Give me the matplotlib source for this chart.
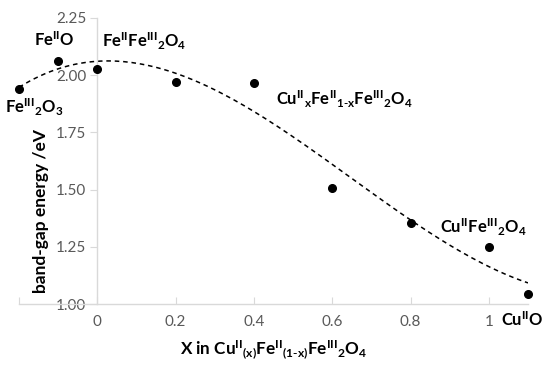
import numpy as np
import matplotlib
matplotlib.use("Agg")
import matplotlib.pyplot as plt

x_vals = [-0.2, -0.1, 0.0, 0.2, 0.4, 0.6, 0.8, 1.0, 1.1]
gap_vals = [1.94, 2.062, 2.027, 1.970, 1.966, 1.507, 1.354, 1.249, 1.044]
x_ticks = [-0.2, 0.0, 0.2, 0.4, 0.6, 0.8, 1.0]
x_ticklabels = ['', '0', '0.2', '0.4', '0.6', '0.8', '1']
y_ticks = [1.00, 1.25, 1.50, 1.75, 2.00, 2.25]
y_ticklabels = ['1.00', '1.25', '1.50', '1.75', '2.00', '2.25']

labels = [
    (r'Fe$\mathregular{^{II}}$O', -0.11, 2.155),
    (r'Fe$\mathregular{^{III}{}_2}$O$\mathregular{_3}$', -0.16, 1.86),
    (r'Fe$\mathregular{^{II}}$Fe$\mathregular{^{III}{}_2}$O$\mathregular{_4}$', 0.12, 2.15),
    (r'Cu$\mathregular{^{II}{}_x}$Fe$\mathregular{^{II}{}_{1\text{-}x}}$Fe$\mathregular{^{III}{}_2}$O$\mathregular{_4}$', 0.632, 1.895),
    (r'Cu$\mathregular{^{II}}$Fe$\mathregular{^{III}{}_2}$O$\mathregular{_4}$', 0.985, 1.335),
    (r'Cu$\mathregular{^{II}}$O', 1.085, 0.93),
]

plt.rcParams['font.family'] = ['Lato', 'DejaVu Sans']

fig = plt.figure(figsize=(5.5, 3.65), dpi=100)
ax = fig.add_axes([19/550, 1-304/365, (528-19)/550, (304-18)/365])

coef = np.polyfit(x_vals, gap_vals, 3)
xs = np.linspace(min(x_vals), max(x_vals), 200)
ax.plot(xs, np.polyval(coef, xs), color='black', lw=1.1, ls=(0, (3, 2.5)))
ax.plot(x_vals, gap_vals, 'o', color='black', ms=5.5, clip_on=False, zorder=3)

ax.set_xlim(-0.2, 1.1)
ax.set_ylim(1.0, 2.25)
for s in ['top', 'right']:
    ax.spines[s].set_visible(False)
ax.spines['left'].set_position(('data', 0))
for s in ['left', 'bottom']:
    ax.spines[s].set_color('#d9d9d9')
    ax.spines[s].set_linewidth(1.0)
ax.set_xticks(x_ticks)
ax.set_xticklabels(x_ticklabels)
ax.set_yticks(y_ticks)
ax.set_yticklabels(y_ticklabels)
ax.tick_params(axis='x', direction='in', length=5, color='#d9d9d9', labelcolor='#595959', labelsize=11, pad=8)
ax.tick_params(axis='y', direction='out', length=5, color='#d9d9d9', labelcolor='#595959', labelsize=11, pad=3)

for txt, xx, yy in labels:
    ax.text(xx, yy, txt, fontsize=12, fontweight='bold', ha='center', va='center', color='black')

fig.text(274/550, 1-350/365, r'X in Cu$\mathregular{^{II}{}_{(x)}}$Fe$\mathregular{^{II}{}_{(1\text{-}x)}}$Fe$\mathregular{^{III}{}_2}$O$\mathregular{_4}$',
         fontsize=12.3, fontweight='bold', ha='center', va='center')
fig.text(41/550, 1-211/365, 'band-gap energy /eV', fontsize=12.5, fontweight='bold',
         rotation=90, ha='center', va='center')

fig.savefig('out.png', dpi=100)
